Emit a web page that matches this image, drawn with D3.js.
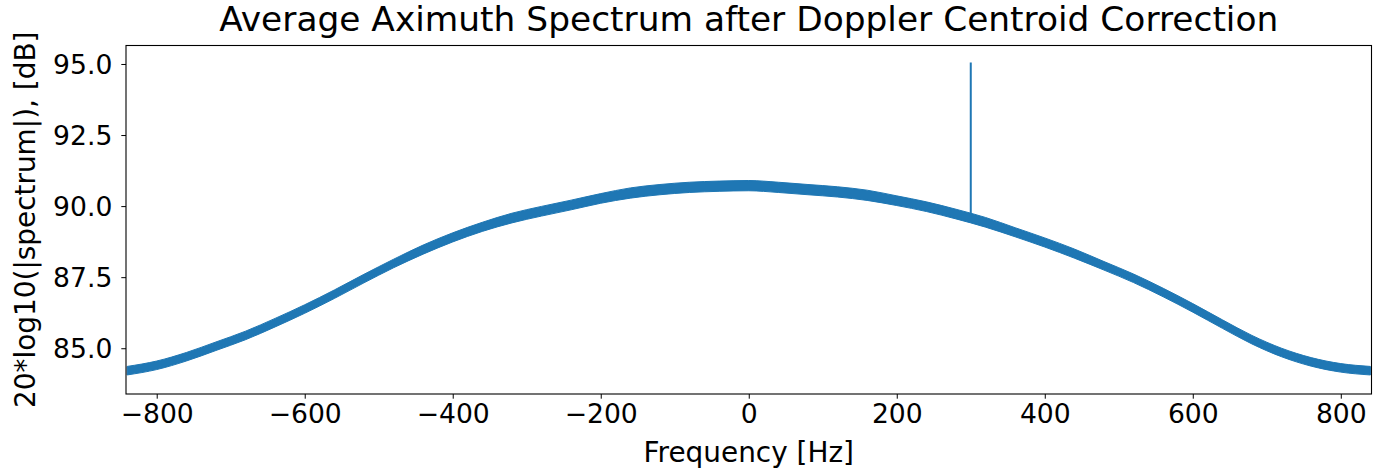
<!DOCTYPE html>
<html>
<head>
<meta charset="utf-8">
<script src="https://cdn.jsdelivr.net/npm/d3@7"></script>
<style>
  body { margin: 0; background: #fff; }
  text { font-family: "DejaVu Sans", sans-serif; fill: #000; }
</style>
</head>
<body>
<div id="chart"></div>
<script>
// data (band centre, every 40 Hz)
var freqs = [-840, -800, -760, -720, -680, -640, -600, -560, -520, -480, -440, -400, -360, -320, -280,
  -240, -200, -160, -120, -80, -40, 0, 40, 80, 120, 160, 200, 240, 280, 320, 360, 400, 440, 480,
  520, 560, 600, 640, 680, 720, 760, 800, 840];
var levels = [84.21, 84.40, 84.70, 85.07, 85.45, 85.90, 86.38, 86.90, 87.45, 87.98, 88.47, 88.90, 89.27, 89.58, 89.82,
  90.04, 90.27, 90.46, 90.58, 90.66, 90.70, 90.72, 90.66, 90.58, 90.50, 90.38, 90.19, 89.98, 89.72, 89.43, 89.08,
  88.72, 88.33, 87.90, 87.46, 86.96, 86.42, 85.85, 85.30, 84.85, 84.52, 84.31, 84.21];
// half thickness of the noisy band, dB
var spread = [0.15, 0.15, 0.15, 0.15, 0.15, 0.15, 0.15, 0.15, 0.15, 0.15, 0.16, 0.16, 0.16, 0.17, 0.17,
  0.17, 0.17, 0.18, 0.18, 0.18, 0.18, 0.18, 0.18, 0.18, 0.18, 0.18, 0.17, 0.17, 0.17, 0.17, 0.16,
  0.16, 0.16, 0.15, 0.15, 0.15, 0.15, 0.15, 0.15, 0.15, 0.15, 0.15, 0.15];
var spikeFreq = 300;
var spikeBase = 89.62;
var spikePeak = 95.05;

var xTicks = [-800, -600, -400, -200, 0, 200, 400, 600, 800];
var yTicks = [85.0, 87.5, 90.0, 92.5, 95.0];

var svgWidth = 1383;
var svgHeight = 476;
var margin = { top: 45.5, right: 11.5, bottom: 82, left: 126 };
var width = svgWidth - margin.left - margin.right;
var height = svgHeight - margin.top - margin.bottom;

var svg = d3.select("#chart")
  .append("svg")
  .attr("width", svgWidth)
  .attr("height", svgHeight);

var chartGroup = svg.append("g")
  .attr("transform", `translate(${margin.left}, ${margin.top})`);

var xScale = d3.scaleLinear().domain([-841.5, 841.5]).range([0, width]);
var yScale = d3.scaleLinear().domain([83.39, 95.65]).range([height, 0]);

svg.append("defs").append("clipPath")
  .attr("id", "plotClip")
  .append("rect")
  .attr("width", width)
  .attr("height", height);

var series = freqs.map((f, i) => ({ f: f, v: levels[i], s: spread[i] }));

// noisy spectrum drawn as a band
var band = d3.area()
  .x(d => xScale(d.f))
  .y0(d => yScale(d.v - d.s))
  .y1(d => yScale(d.v + d.s))
  .curve(d3.curveMonotoneX);

var plot = chartGroup.append("g").attr("clip-path", "url(#plotClip)");

plot.append("path")
  .datum(series)
  .attr("d", band)
  .attr("fill", "#1f77b4")
  .attr("stroke", "#1f77b4")
  .attr("stroke-width", 1)
  .attr("stroke-linejoin", "round");

// spike at 300 Hz
plot.append("line")
  .attr("x1", xScale(spikeFreq))
  .attr("x2", xScale(spikeFreq))
  .attr("y1", yScale(spikeBase))
  .attr("y2", yScale(spikePeak))
  .attr("stroke", "#1f77b4")
  .attr("stroke-width", 2);

// axes
var bottomAxis = d3.axisBottom(xScale)
  .tickValues(xTicks)
  .tickFormat(d3.format("d"))
  .tickSizeInner(4.7)
  .tickSizeOuter(0)
  .tickPadding(5);
var leftAxis = d3.axisLeft(yScale)
  .tickValues(yTicks)
  .tickFormat(d3.format(".1f"))
  .tickSizeInner(4.7)
  .tickSizeOuter(0)
  .tickPadding(9);

var xAxis = chartGroup.append("g")
  .attr("transform", `translate(0, ${height})`)
  .call(bottomAxis);
var yAxis = chartGroup.append("g")
  .call(leftAxis);

[xAxis, yAxis].forEach(function(ax) {
  ax.select(".domain").remove();
  ax.selectAll(".tick line").attr("stroke", "#000").attr("stroke-width", 1);
  ax.selectAll(".tick text")
    .attr("font-family", "DejaVu Sans")
    .attr("font-size", 26.6)
    .attr("fill", "#000");
});
xAxis.selectAll(".tick text").attr("dy", "0.72em");
yAxis.selectAll(".tick text").attr("dy", "0.36em");

// frame
chartGroup.append("rect")
  .attr("width", width)
  .attr("height", height)
  .attr("fill", "none")
  .attr("stroke", "#000")
  .attr("stroke-width", 1.1);

// labels
svg.append("text")
  .attr("x", margin.left + width / 2)
  .attr("y", 31)
  .attr("text-anchor", "middle")
  .attr("font-size", 34.4)
  .text("Average Aximuth Spectrum after Doppler Centroid Correction");

svg.append("text")
  .attr("x", margin.left + width / 2)
  .attr("y", 462)
  .attr("text-anchor", "middle")
  .attr("font-size", 27.9)
  .text("Frequency [Hz]");

svg.append("text")
  .attr("transform", `translate(35, ${margin.top + height / 2}) rotate(-90)`)
  .attr("text-anchor", "middle")
  .attr("font-size", 27.9)
  .text("20*log10(|spectrum|), [dB]");
</script>
</body>
</html>
